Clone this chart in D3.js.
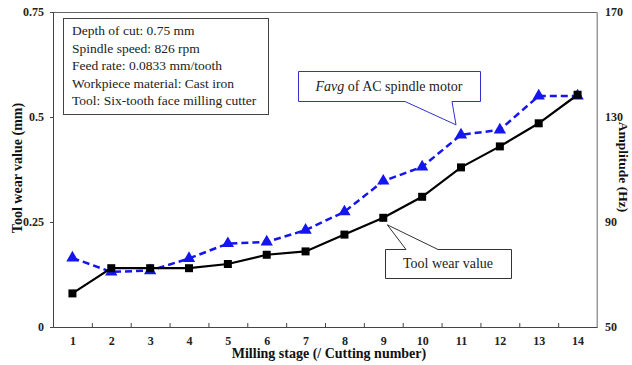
<!DOCTYPE html>
<html>
<head>
<meta charset="utf-8">
<script src="https://cdn.jsdelivr.net/npm/d3@7"></script>
<style>
  body { margin: 0; background: #fff; }
</style>
</head>
<body>
<div id="chart"></div>
<script>
// milling stage (cutting number)
const stages = [1, 2, 3, 4, 5, 6, 7, 8, 9, 10, 11, 12, 13, 14]
// tool wear value (mm), left axis
const toolWear = [0.08, 0.14, 0.14, 0.14, 0.15, 0.172, 0.18, 0.22, 0.26, 0.31, 0.38, 0.43, 0.485, 0.553]
// Favg of AC spindle motor (Hz), right axis
const favg = [76.3, 71, 71.5, 76.1, 81.8, 82.4, 86.9, 93.9, 105.6, 111, 123.2, 125.1, 138, 138]
const leftTicks = [0, 0.25, 0.5, 0.75]
const rightTicks = [50, 90, 130, 170]
const infoLines = [
  'Depth of cut: 0.75 mm',
  'Spindle speed: 826 rpm',
  'Feed rate: 0.0833 mm/tooth',
  'Workpiece material: Cast iron',
  'Tool: Six-tooth face milling cutter'
]

const FONT = 'Liberation Serif'
const W = 632, H = 365
const margin = { top: 12, right: 35, bottom: 38, left: 53 }
const width = W - margin.left - margin.right,
  height = H - margin.top - margin.bottom

const svg = d3.select('#chart').append('svg')
  .attr('width', W).attr('height', H)
  .attr('font-family', FONT)
const g = svg.append('g')
  .attr('transform', `translate(${margin.left}, ${margin.top})`)

const x = d3.scaleLinear().domain([0.5, 14.5]).range([0, width])
const yL = d3.scaleLinear().domain([0, 0.75]).range([height, 0])
const yR = d3.scaleLinear().domain([50, 170]).range([height, 0])

// frame (top and right are lighter)
g.append('line').attr('x1', 0).attr('x2', width).attr('y1', 0.5).attr('y2', 0.5)
  .attr('stroke', '#666')
g.append('line').attr('x1', width).attr('x2', width).attr('y1', 0).attr('y2', height)
  .attr('stroke', '#999')

// bottom axis: labels at stages, ticks between them pointing inward
const xLab = g.append('g').attr('transform', `translate(0, ${height})`)
  .call(d3.axisBottom(x).tickValues(stages).tickSize(0).tickPadding(9).tickFormat(d3.format('d')))
xLab.select('.domain').remove()
const xTick = g.append('g').attr('transform', `translate(0, ${height})`)
  .call(d3.axisBottom(x).tickValues(d3.range(1.5, 14, 1)).tickSize(-4).tickFormat(''))
xTick.select('.domain').attr('stroke', '#444')
xTick.selectAll('line').attr('stroke', '#444')

const yAxL = g.append('g')
  .call(d3.axisLeft(yL).tickValues(leftTicks).tickSize(3).tickPadding(6).tickFormat(d => d === 0 ? '0' : d3.format('')(d)))
yAxL.select('.domain').attr('stroke', '#444')
yAxL.selectAll('line').attr('stroke', '#444')

const yAxR = g.append('g').attr('transform', `translate(${width}, 0)`)
  .call(d3.axisRight(yR).tickValues(rightTicks).tickSize(0).tickPadding(8))
yAxR.select('.domain').attr('stroke', '#999')

g.selectAll('.tick text')
  .attr('font-family', FONT)
  .attr('font-size', 12)
  .attr('font-weight', 'bold')
  .attr('fill', '#222')
xLab.attr('font-family', FONT); yAxL.attr('font-family', FONT); yAxR.attr('font-family', FONT)

// axis titles
svg.append('text')
  .attr('x', margin.left + width / 2 + 4).attr('y', 358)
  .attr('text-anchor', 'middle')
  .attr('font-size', 14).attr('font-weight', 'bold').attr('fill', '#111')
  .text('Milling stage (/ Cutting number)')
svg.append('text')
  .attr('transform', 'translate(22, 168) rotate(-90)')
  .attr('text-anchor', 'middle')
  .attr('font-size', 14).attr('font-weight', 'bold').attr('fill', '#111')
  .text('Tool wear value (mm)')
svg.append('text')
  .attr('transform', 'translate(619, 167) rotate(90)')
  .attr('text-anchor', 'middle')
  .attr('font-size', 13.5).attr('font-weight', 'bold').attr('fill', '#111')
  .text('Amplitude (Hz)')

// Favg line (dashed blue, triangles)
const blue = '#1515f0'
g.append('path')
  .datum(favg)
  .attr('fill', 'none').attr('stroke', blue)
  .attr('stroke-width', 2.5).attr('stroke-dasharray', '7,4')
  .attr('d', d3.line().x((d, i) => x(stages[i])).y(d => yR(d)))
g.selectAll('path.tri')
  .data(favg)
  .join('path')
  .attr('class', 'tri')
  .attr('fill', blue)
  .attr('transform', (d, i) => `translate(${x(stages[i])}, ${yR(d)})`)
  .attr('d', d3.symbol(d3.symbolTriangle, 66))

// tool wear line (solid black, squares)
g.append('path')
  .datum(toolWear)
  .attr('fill', 'none').attr('stroke', '#000')
  .attr('stroke-width', 2.2)
  .attr('d', d3.line().x((d, i) => x(stages[i])).y(d => yL(d)))
g.selectAll('rect.sq')
  .data(toolWear)
  .join('rect')
  .attr('class', 'sq')
  .attr('x', (d, i) => x(stages[i]) - 4)
  .attr('y', d => yL(d) - 4)
  .attr('width', 8).attr('height', 8)
  .attr('fill', '#000')

// info box
g.append('rect')
  .attr('x', 10.5).attr('y', 6.5).attr('width', 205).attr('height', 96)
  .attr('fill', '#fff').attr('stroke', '#444')
g.selectAll('text.info')
  .data(infoLines)
  .join('text')
  .attr('class', 'info')
  .attr('x', 19).attr('y', (d, i) => 23 + i * 17.5)
  .attr('font-size', 13.5).attr('fill', '#222')
  .text(d => d)

// callout for Favg
const fx = x(11), fy = yR(favg[10])
g.append('path')
  .attr('fill', '#fff').attr('stroke', '#3333cc')
  .attr('d', `M245.5,59.5 H427.5 V89.5 H399 L${fx - 5},${fy - 10} L352,89.5 H245.5 Z`)
const ft = g.append('text').attr('x', 336).attr('y', 79).attr('text-anchor', 'middle')
  .attr('font-size', 14).attr('fill', '#222')
ft.append('tspan').attr('font-style', 'italic').text('Favg')
ft.append('tspan').text(' of AC spindle motor')

// callout for tool wear
const tx = x(9), ty = yL(toolWear[8])
g.append('path')
  .attr('fill', '#fff').attr('stroke', '#333')
  .attr('d', `M332.5,237.5 H353 L${tx + 4},${ty + 7} L385,237.5 H458.5 V266.5 H332.5 Z`)
g.append('text').attr('x', 395).attr('y', 256).attr('text-anchor', 'middle')
  .attr('font-size', 14).attr('fill', '#222')
  .text('Tool wear value')
</script>
</body>
</html>
